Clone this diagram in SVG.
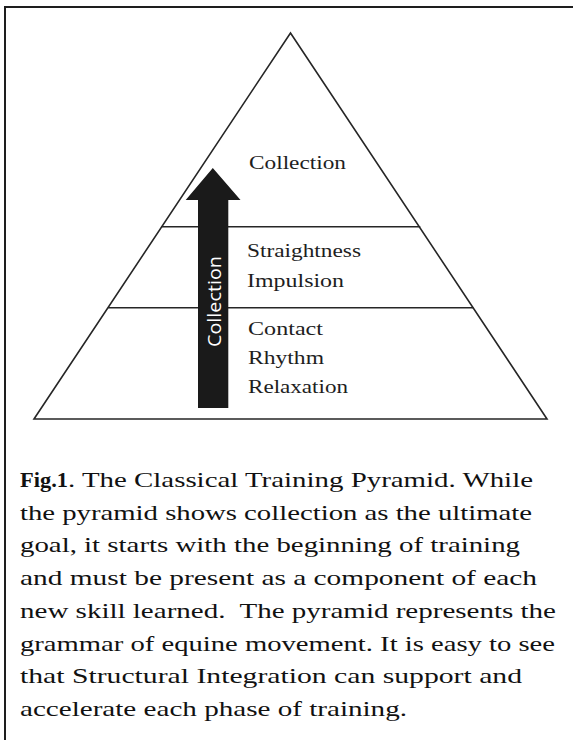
<svg xmlns="http://www.w3.org/2000/svg" width="573" height="740" viewBox="0 0 573 740">
<style>
.ln{stroke:#262626;stroke-width:1.6;fill:none;stroke-linecap:square}
.lbl{font-family:"Liberation Serif","Times New Roman",serif;font-size:19px;fill:#1e1e1e}
.cap{font-family:"Liberation Serif","Times New Roman",serif;font-size:22px;fill:#111}
.arr{font-family:"Open Sans","DejaVu Sans",sans-serif;font-size:19px;fill:#fff}
</style>
<rect x="0" y="0" width="573" height="740" fill="#fff"/>
<rect id="frame" x="5" y="7" width="620" height="800" fill="none" stroke="#1e1e1e" stroke-width="2"/>
<g id="pyramid">
  <path class="ln" d="M34,419 L290.5,33 L547,419 Z"/>
  <line class="ln" x1="162" y1="226.7" x2="419.5" y2="226.7"/>
  <line class="ln" x1="109" y1="307.7" x2="472.5" y2="307.7"/>
</g>
<g id="arrow">
  <path d="M198,408 L198,200 L185.7,200 L212.8,168 L240.5,200 L228.3,200 L228.3,408 Z" fill="#1a1a1a"/>
  <text class="arr" transform="translate(220.5,301.5) rotate(-90)" text-anchor="middle" textLength="91" lengthAdjust="spacingAndGlyphs">Collection</text>
</g>
<g id="labels">
  <text class="lbl" x="249" y="169" textLength="97" lengthAdjust="spacingAndGlyphs">Collection</text>
  <text class="lbl" x="247" y="257" textLength="114" lengthAdjust="spacingAndGlyphs">Straightness</text>
  <text class="lbl" x="247" y="286.5" textLength="97" lengthAdjust="spacingAndGlyphs">Impulsion</text>
  <text class="lbl" x="248" y="334.5" textLength="75" lengthAdjust="spacingAndGlyphs">Contact</text>
  <text class="lbl" x="248" y="363.5" textLength="76" lengthAdjust="spacingAndGlyphs">Rhythm</text>
  <text class="lbl" x="248" y="393" textLength="100" lengthAdjust="spacingAndGlyphs">Relaxation</text>
</g>
<g id="caption">
  <text class="cap" x="20" y="487" font-weight="bold" textLength="48" lengthAdjust="spacingAndGlyphs">Fig.1</text>
  <text class="cap" x="68" y="487" textLength="465" lengthAdjust="spacingAndGlyphs">. The Classical Training Pyramid. While</text>
  <text class="cap" x="20" y="519.7" textLength="512" lengthAdjust="spacingAndGlyphs">the pyramid shows collection as the ultimate</text>
  <text class="cap" x="20" y="552.4" textLength="500" lengthAdjust="spacingAndGlyphs">goal, it starts with the beginning of training</text>
  <text class="cap" x="20" y="585.1" textLength="517" lengthAdjust="spacingAndGlyphs">and must be present as a component of each</text>
  <text class="cap" x="20" y="617.8" textLength="536" lengthAdjust="spacingAndGlyphs" xml:space="preserve">new skill learned.  The pyramid represents the</text>
  <text class="cap" x="20" y="650.5" textLength="535" lengthAdjust="spacingAndGlyphs">grammar of equine movement. It is easy to see</text>
  <text class="cap" x="20" y="683.2" textLength="502" lengthAdjust="spacingAndGlyphs">that Structural Integration can support and</text>
  <text class="cap" x="20" y="715.9" textLength="387" lengthAdjust="spacingAndGlyphs">accelerate each phase of training.</text>
</g>
</svg>
